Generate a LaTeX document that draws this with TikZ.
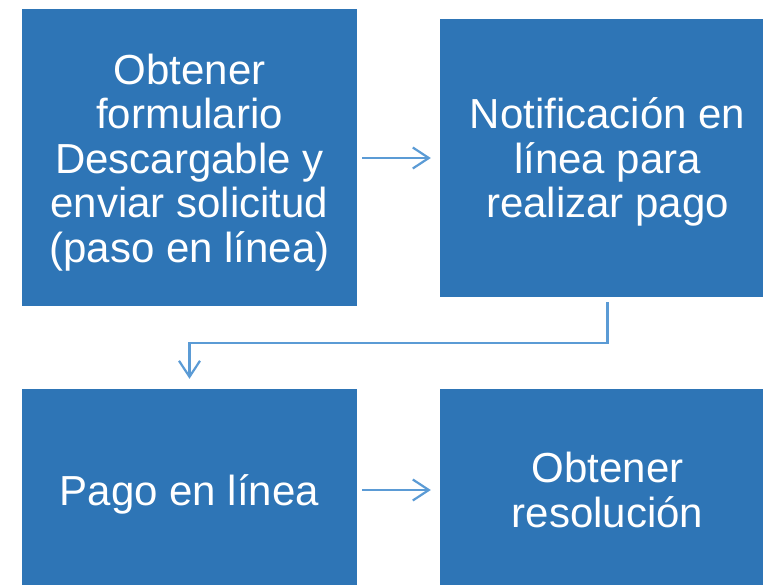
\documentclass[tikz,border=0pt]{standalone}
\usepackage{fontspec}
\setmainfont{Liberation Sans}
\usetikzlibrary{arrows.meta}
\definecolor{boxblue}{HTML}{2E75B6}
\definecolor{arrowblue}{HTML}{5B9BD5}
\begin{document}
\begin{tikzpicture}[x=1pt,y=-1pt,
  stepbox/.style={fill=boxblue, draw=none, text=white, align=center,
    font=\fontsize{42}{44.5}\selectfont, inner sep=0pt, text depth=0pt},
  conn/.style={draw=arrowblue, line width=2.2pt,
    -{Straight Barb[length=16pt,width=21pt,line width=2.2pt]}}]
\useasboundingbox (0,0) rectangle (763,585);
\begin{scope}
\clip (0,0) rectangle (763,585);
\node[stepbox, minimum width=335pt, minimum height=297pt] (a) at (189.5,158)
  {Obtener\\formulario\\Descargable y\\enviar solicitud\\(paso en línea)};
\node[stepbox, minimum width=335pt, minimum height=278pt] (b) at (607.5,158)
  {Notificación en\\línea para\\realizar pago};
\node[stepbox, minimum width=335pt, minimum height=202pt] (c) at (189.5,490)
  {Pago en línea};
\node[stepbox, minimum width=335pt, minimum height=202pt] (d) at (607.5,490)
  {Obtener\\resolución};
\coordinate (mid) at (0,343);
\draw[conn, shorten <=5pt, shorten >=9pt] (a.east) -- (b.west);
\draw[conn, shorten <=5pt, shorten >=9pt] (c.east) -- (d.west);
\draw[conn, shorten <=5pt, shorten >=10pt] (b.south) -- (b.south |- mid) -| (c.north);
\end{scope}
\end{tikzpicture}
\end{document}
